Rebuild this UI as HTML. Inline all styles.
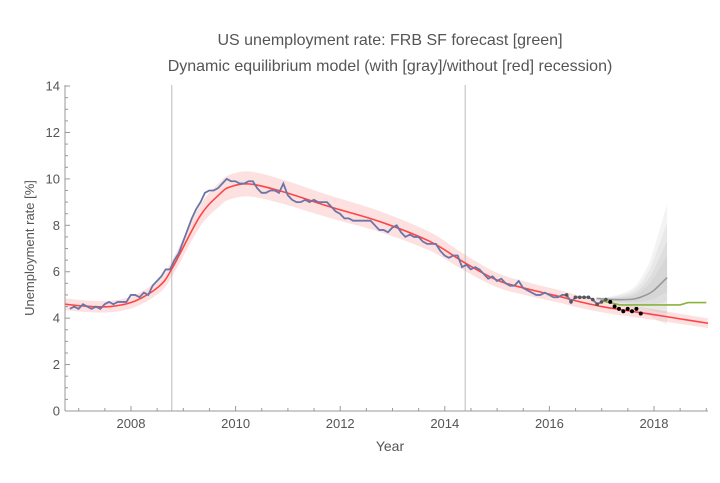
<!DOCTYPE html>
<html><head><meta charset="utf-8">
<style>
body{margin:0;background:#fff;}
svg text{font-family:"Liberation Sans",sans-serif;}
</style></head>
<body>
<svg id="c" width="720" height="478" xmlns="http://www.w3.org/2000/svg">
<text x="390" y="45" text-anchor="middle" font-size="16" fill="#555">US unemployment rate: FRB SF forecast [green]</text>
<text x="390" y="71" text-anchor="middle" font-size="16" fill="#555">Dynamic equilibrium model (with [gray]/without [red] recession)</text>
<text x="390" y="451" text-anchor="middle" font-size="14" fill="#555">Year</text>
<text transform="translate(34,248) rotate(-90)" text-anchor="middle" font-size="13" fill="#555">Unemployment rate [%]</text>
<g id="plot"></g>
</svg>
<script>
const unempStart = 2006.83;
const unemp = [4.4,4.5,4.4,
4.6,4.5,4.4,4.5,4.4,4.6,4.7,4.6,4.7,4.7,4.7,5.0,
5.0,4.9,5.1,5.0,5.4,5.6,5.8,6.1,6.1,6.5,6.8,7.3,
7.8,8.3,8.7,9.0,9.4,9.5,9.5,9.6,9.8,10.0,9.9,9.9,
9.8,9.8,9.9,9.9,9.6,9.4,9.4,9.5,9.5,9.4,9.8,9.3,
9.1,9.0,9.0,9.1,9.0,9.1,9.0,9.0,9.0,8.8,8.6,8.5,
8.3,8.3,8.2,8.2,8.2,8.2,8.2,8.0,7.8,7.8,7.7,7.9,
8.0,7.7,7.5,7.6,7.5,7.5,7.3,7.2,7.2,7.2,6.9,6.7,
6.6,6.7,6.7,6.2,6.3,6.1,6.2,6.1,5.9,5.7,5.8,5.6,
5.7,5.5,5.4,5.4,5.6,5.3,5.2,5.1,5.0,5.0,5.1,5.0,
4.9,4.9,5.0,5.0,4.7,4.9,4.9,4.9,4.9,4.8,4.6,4.7,
4.8];
const newPts = [4.7,4.5,4.4,4.3,4.4,4.3,4.4,4.2];
const modelYears = [2006.7,2007.12,2007.6,2008.08,2008.55,2008.8,2009.32,2009.7,2009.89,2010.27,2010.9,2011.8,2012.76,2013.72,2014.35,2015.0,2015.6,2016.2,2016.5,2017,2017.5,2018,2018.5,2019.05];
const modelVals = [4.6,4.52,4.5,4.74,5.4,6.2,8.4,9.35,9.65,9.78,9.45,8.8,8.16,7.3,6.43,5.64,5.25,4.93,4.75,4.5,4.32,4.15,3.97,3.78];
const recYears = [2016.9,2017.2,2017.6,2017.85,2018.0,2018.25];
const recVals = [4.85,4.8,4.82,5.0,5.2,5.75];
const recUpper = [4.9,4.95,5.3,6.1,7.0,8.9];
const recLower = [4.8,4.6,4.4,4.2,4.0,3.7];
const frbYears = [2017.05,2017.35,2018.5,2018.65,2019.0];
const frbVals = [4.72,4.57,4.57,4.67,4.67];
const recessionLines = [2008.78,2014.39];
const xTicks = [2008,2010,2012,2014,2016,2018];
const yTicks = [0,2,4,6,8,10,12,14];

const X0=65,X1=708,Y0=411;
const xs=y=>131+(y-2008)*52.3;
const ys=v=>Y0-v*23.21;
const NS="http://www.w3.org/2000/svg";
const g=document.getElementById('plot');
function mk(t,a,p){const e=document.createElementNS(NS,t);for(const k in a)e.setAttribute(k,a[k]);(p||g).appendChild(e);return e;}
function smooth(px){let d=`M${px[0][0]},${px[0][1]}`;for(let i=0;i<px.length-1;i++){const p0=px[Math.max(0,i-1)],p1=px[i],p2=px[i+1],p3=px[Math.min(px.length-1,i+2)];d+=` C${p1[0]+(p2[0]-p0[0])/6},${p1[1]+(p2[1]-p0[1])/6} ${p2[0]-(p3[0]-p1[0])/6},${p2[1]-(p3[1]-p1[1])/6} ${p2[0]},${p2[1]}`;}return d;}
function modelPts(f){return modelYears.map((y,i)=>[Math.min(Math.max(xs(y),X0),X1),ys(modelVals[i]*(1+f))]);}

const up=modelPts(0.055),lo=modelPts(-0.055);
let band=mk('path',{d:smooth(up)+' L'+smooth(lo.slice().reverse()).slice(1)+' Z',fill:'#fde0e0',stroke:'none'});



recessionLines.forEach(r=>{const l=mk('line',{x1:xs(r),x2:xs(r),y1:85,y2:Y0,stroke:'#bbb','stroke-width':1});

});

[1,0.75,0.5,0.3].forEach((f,k)=>{
 const u=recYears.map((y,i)=>[xs(y),ys(recVals[i]+(recUpper[i]-recVals[i])*f)]);
 const l=recYears.map((y,i)=>[xs(y),ys(recVals[i]-(recVals[i]-recLower[i])*f)]).reverse();
 const p=mk('path',{d:smooth(u)+' L'+smooth(l).slice(1)+' Z',fill:'#999','fill-opacity':0.12,stroke:'none'});
 
 
});

let red=mk('path',{d:smooth(modelPts(0)),fill:'none',stroke:'#f44','stroke-width':1.6});



let gr=mk('path',{d:smooth(recYears.map((y,i)=>[xs(y),ys(recVals[i])])),fill:'none',stroke:'#999','stroke-width':1.6});



let gn=mk('path',{d:'M'+frbYears.map((y,i)=>xs(y)+','+ys(frbVals[i])).join(' L'),fill:'none',stroke:'#8ab33a','stroke-width':1.6});



let bl=mk('path',{d:'M'+unemp.map((v,i)=>Math.max(X0,xs(unempStart+i/12))+','+ys(v)).join(' L'),fill:'none',stroke:'#6a75a8','stroke-width':1.8});


unemp.forEach((v,i)=>{const t=unempStart+i/12;if(t>=2016.3){const c=mk('circle',{cx:xs(t),cy:ys(v),r:1.8,fill:'#555'});

}});
const lastT=unempStart+(unemp.length-1)/12;
newPts.forEach((v,i)=>{const c=mk('circle',{cx:xs(lastT+(i+1)/12),cy:ys(v),r:2,fill:'#000'});

});

let ax=mk('line',{x1:X0,x2:X1,y1:Y0,y2:Y0,stroke:'#999'});


let ay=mk('line',{x1:X0,x2:X0,y1:85,y2:Y0,stroke:'#999'});


for(let y=2007;y<=2019.01;y+=0.5){const maj=xTicks.includes(y);mk('line',{x1:xs(y),x2:xs(y),y1:Y0,y2:Y0-(maj?5:3),stroke:'#999'});}
for(let v=0;v<=14;v+=0.5){const maj=yTicks.includes(v);mk('line',{x1:X0,x2:X0+(maj?5:3),y1:ys(v),y2:ys(v),stroke:'#999'});}
xTicks.forEach(t=>{const e=mk('text',{x:xs(t),y:Y0+17,'text-anchor':'middle','font-size':13,fill:'#555'});e.textContent=t;

});
yTicks.forEach(t=>{const e=mk('text',{x:X0-5,y:ys(t)+4.5,'text-anchor':'end','font-size':13,fill:'#555'});e.textContent=t;

});
</script>
</body></html>
